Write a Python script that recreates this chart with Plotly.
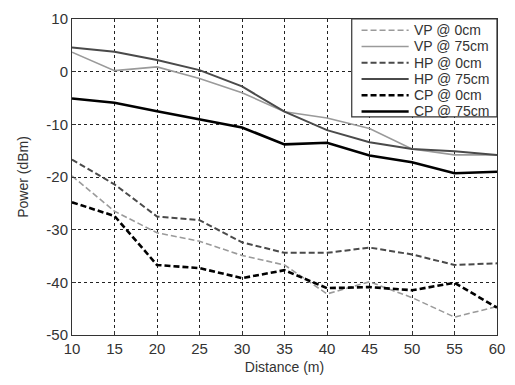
import plotly.graph_objects as go

# Received power versus distance for three antenna polarisations at two heights
distance = [10, 15, 20, 25, 30, 35, 40, 45, 50, 55, 60]

vp_0cm = [-19.8, -26.5, -30.6, -32.2, -34.9, -36.7, -42.2, -39.9, -42.9, -46.6, -44.6]
vp_75cm = [3.7, 0.2, 0.9, -1.3, -4.0, -7.6, -8.8, -10.8, -14.7, -15.8, -15.8]
hp_0cm = [-16.7, -21.4, -27.5, -28.2, -32.4, -34.4, -34.4, -33.4, -34.7, -36.7, -36.4]
hp_75cm = [4.6, 3.8, 2.2, 0.3, -2.8, -7.6, -11.1, -13.4, -14.7, -15.1, -15.8]
cp_0cm = [-24.8, -27.4, -36.7, -37.3, -39.2, -37.7, -41.1, -40.9, -41.5, -40.1, -44.8]
cp_75cm = [-5.1, -5.9, -7.5, -9.0, -10.6, -13.8, -13.5, -15.9, -17.2, -19.3, -19.0]

series_names = ["VP @ 0cm", "VP @ 75cm", "HP @ 0cm", "HP @ 75cm", "CP @ 0cm", "CP @ 75cm"]
series_values = [vp_0cm, vp_75cm, hp_0cm, hp_75cm, cp_0cm, cp_75cm]

x_ticks = [10, 15, 20, 25, 30, 35, 40, 45, 50, 55, 60]
y_ticks = [10, 0, -10, -20, -30, -40, -50]

# Line styling per series: colour, width, dash
styles = [
    ("#9a9a9a", 1.6, "6px,3px"),
    ("#9a9a9a", 1.6, "solid"),
    ("#4a4a4a", 2.0, "6px,3px"),
    ("#4a4a4a", 2.0, "solid"),
    ("#000000", 2.6, "6px,3px"),
    ("#000000", 2.6, "solid"),
]

FONT = "Liberation Sans, Arial, sans-serif"
W, H = 515, 385
M = dict(l=72, r=10, t=12, b=50)
plot_w = W - M["l"] - M["r"]
plot_h = H - M["t"] - M["b"]

fig = go.Figure()
for name, values, (color, width, dash) in zip(series_names, series_values, styles):
    fig.add_trace(go.Scatter(
        x=distance, y=values, name=name, mode="lines",
        line=dict(color=color, width=width, dash=dash),
        showlegend=False,
    ))

# Boxed legend in the upper-right corner of the axes
def px_x(p):
    return (p - M["l"]) / plot_w

def px_y(p):
    return 1 - (p - M["t"]) / plot_h

shapes = [dict(
    type="rect", xref="paper", yref="paper",
    x0=px_x(357), x1=1.0, y0=px_y(112), y1=1.0,
    line=dict(color="#333333", width=1.2), fillcolor="white", layer="above",
)]
annotations = []
row0, row_step = 23.5, 16.6
for i, (name, (color, width, dash)) in enumerate(zip(series_names, styles)):
    yy = px_y(row0 + i * row_step)
    shapes.append(dict(
        type="line", xref="paper", yref="paper",
        x0=px_x(367), x1=px_x(415), y0=yy, y1=yy,
        line=dict(color=color, width=width, dash=dash), layer="above",
    ))
    annotations.append(dict(
        xref="paper", yref="paper", x=px_x(418), y=yy,
        xanchor="left", yanchor="middle", text=name, showarrow=False,
        font=dict(family=FONT, size=14, color="#333333"),
    ))

axis_common = dict(
    showline=True, linecolor="#333333", linewidth=1, mirror=True,
    showgrid=True, gridcolor="#222222", gridwidth=1, griddash="3px,3px",
    ticks="inside", ticklen=4, tickcolor="#333333",
    zeroline=False,
    tickfont=dict(family=FONT, size=15, color="#333333"),
    title_font=dict(family=FONT, size=14, color="#333333"),
)

fig.update_xaxes(
    range=[10, 60], tickvals=x_ticks, ticktext=[str(t) for t in x_ticks],
    title_text="Distance (m)", title_standoff=6, **axis_common,
)
fig.update_yaxes(
    range=[-50, 10], tickvals=y_ticks, ticktext=[str(t) for t in y_ticks],
    title_text="Power (dBm)", title_standoff=14, **axis_common,
)

fig.update_layout(
    width=W, height=H, margin=M,
    paper_bgcolor="white", plot_bgcolor="white",
    font=dict(family=FONT, color="#333333"),
    shapes=shapes, annotations=annotations,
    showlegend=False,
)

fig.write_html("out.html")
